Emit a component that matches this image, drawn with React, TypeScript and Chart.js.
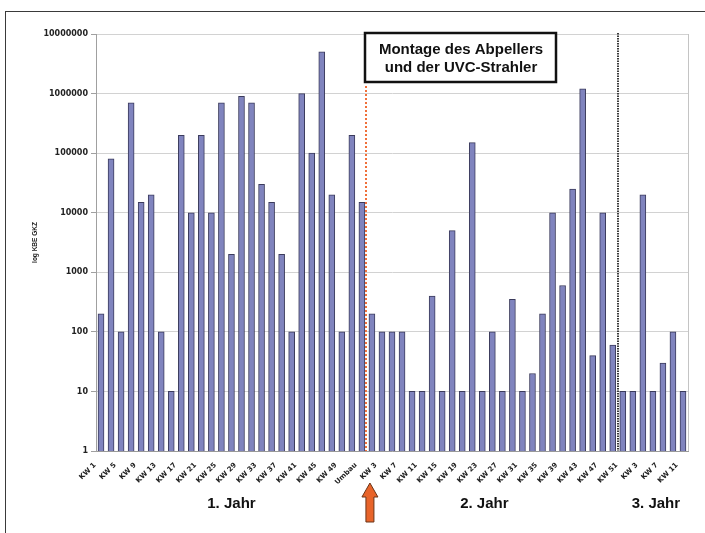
import React, { useEffect, useRef } from 'react';
import { Chart, registerables } from 'chart.js';

Chart.register(...registerables);

const year1Weeks = ['KW 1','KW 3','KW 5','KW 7','KW 9','KW 11','KW 13','KW 15','KW 17','KW 19','KW 21','KW 23','KW 25','KW 27','KW 29','KW 31','KW 33','KW 35','KW 37','KW 39','KW 41','KW 43','KW 45','KW 47','KW 49','KW 51'];
const rebuildLabel = ['Umbau'];
const year2Weeks = ['KW 1','KW 3','KW 5','KW 7','KW 9','KW 11','KW 13','KW 15','KW 17','KW 19','KW 21','KW 23','KW 25','KW 27','KW 29','KW 31','KW 33','KW 35','KW 37','KW 39','KW 41','KW 43','KW 45','KW 47','KW 49','KW 51'];
const year3Weeks = ['KW 1','KW 3','KW 5','KW 7','KW 9','KW 11'];

const year1Values = [200, 80000, 100, 700000, 15000, 20000, 100, 10, 200000, 10000, 200000, 10000, 700000, 2000, 900000, 700000, 30000, 15000, 2000, 100, 1000000, 100000, 5000000, 20000, 100, 200000];
const rebuildValues = [15000];
const year2Values = [200, 100, 100, 100, 10, 10, 400, 10, 5000, 10, 150000, 10, 100, 10, 350, 10, 20, 200, 10000, 600, 25000, 1200000, 40, 10000, 60, 10];
const year3Values = [10, 20000, 10, 30, 100, 10];

const yTickValues = [1, 10, 100, 1000, 10000, 100000, 1000000, 10000000];
const yTitle = 'log KBE GKZ';
const yearLabels = ['1. Jahr', '2. Jahr', '3. Jahr'];
const boxLines = ['Montage des Abpellers', 'und der UVC-Strahler'];

const categories = [...year1Weeks, ...rebuildLabel, ...year2Weeks, ...year3Weeks];
const values = [...year1Values, ...rebuildValues, ...year2Values, ...year3Values];

const overlay = {
  id: 'overlay',
  afterDraw(chart: any) {
    const { ctx, chartArea: a, scales } = chart;
    const x = scales.x;
    ctx.save();
    // outer frame
    ctx.strokeStyle = '#3a3a3a';
    ctx.lineWidth = 1;
    ctx.beginPath();
    ctx.moveTo(5, 11.5);
    ctx.lineTo(705, 11.5);
    ctx.moveTo(5.5, 11);
    ctx.lineTo(5.5, 533);
    ctx.stroke();
    // plot area right border
    ctx.strokeStyle = '#c4c4c4';
    ctx.beginPath();
    ctx.moveTo(a.right + 0.5, a.top);
    ctx.lineTo(a.right + 0.5, a.bottom);
    ctx.stroke();
    // black dotted separator (year 2 / year 3)
    const bx = Math.round(x.getPixelForValue(51.55));
    ctx.strokeStyle = '#3a3a3a';
    ctx.lineWidth = 2;
    ctx.setLineDash([1.5, 1]);
    ctx.beginPath();
    ctx.moveTo(bx, a.top - 1);
    ctx.lineTo(bx, a.bottom);
    ctx.stroke();
    // orange dotted separator (rebuild)
    const ox = Math.round(x.getPixelForValue(26.4));
    ctx.strokeStyle = '#f0703a';
    ctx.lineWidth = 2;
    ctx.setLineDash([2, 2]);
    ctx.beginPath();
    ctx.moveTo(ox, 86);
    ctx.lineTo(ox, a.bottom);
    ctx.stroke();
    ctx.setLineDash([]);
    // annotation box
    const bxL = ox - 1;
    ctx.fillStyle = '#ffffff';
    ctx.fillRect(bxL, 33, 191, 49);
    ctx.strokeStyle = '#111111';
    ctx.lineWidth = 2.5;
    ctx.strokeRect(bxL, 33, 191, 49);
    ctx.fillStyle = '#111111';
    ctx.font = 'bold 15px "Liberation Sans", Arial, sans-serif';
    ctx.textAlign = 'center';
    ctx.textBaseline = 'middle';
    ctx.fillText(boxLines[0], bxL + 96, 50);
    ctx.fillText(boxLines[1], bxL + 96, 68);
    // arrow
    const ax = x.getPixelForValue(27) - 2;
    ctx.beginPath();
    ctx.moveTo(ax, 483);
    ctx.lineTo(ax + 8, 497);
    ctx.lineTo(ax + 4, 497);
    ctx.lineTo(ax + 4, 522);
    ctx.lineTo(ax - 4, 522);
    ctx.lineTo(ax - 4, 497);
    ctx.lineTo(ax - 8, 497);
    ctx.closePath();
    ctx.fillStyle = '#e8642a';
    ctx.fill();
    ctx.strokeStyle = '#6b3518';
    ctx.lineWidth = 1;
    ctx.stroke();
    // year labels
    ctx.fillStyle = '#111111';
    ctx.font = 'bold 15px "Liberation Sans", Arial, sans-serif';
    const yearPos = [13, 38.2, 55.3];
    yearLabels.forEach((t, i) => {
      ctx.fillText(t, x.getPixelForValue(yearPos[i]), 504);
    });
    ctx.restore();
  },
};

export default function App() {
  const ref = useRef<HTMLCanvasElement | null>(null);
  useEffect(() => {
    document.body.style.margin = '0';
    const canvas = ref.current;
    if (!canvas) return;
    const chart = new Chart(canvas, {
      type: 'bar',
      data: {
        labels: categories,
        datasets: [
          {
            data: values,
            backgroundColor: '#8084be',
            borderColor: '#3b3b5c',
            borderWidth: 1,
            barThickness: 6,
          },
        ],
      },
      options: {
        animation: false,
        responsive: false,
        devicePixelRatio: 1,
        layout: { padding: { left: 0, right: 17, top: 34, bottom: 0 } },
        plugins: { legend: { display: false }, tooltip: { enabled: false } },
        scales: {
          x: {
            type: 'category',
            grid: { display: false },
            border: { display: true, color: '#9a9a9a' },
            ticks: {
              autoSkip: false,
              maxRotation: 45,
              minRotation: 45,
              labelOffset: -6,
              padding: 2,
              color: '#222222',
              font: { family: 'DejaVu Sans', weight: 'bold', size: 7 },
              callback: (_v: any, i: number) => (i % 2 === 0 ? categories[i] : ''),
            },
            afterFit: (s: any) => {
              s.height = 82;
            },
          },
          y: {
            type: 'logarithmic',
            min: 1,
            max: 10000000,
            grid: { color: '#d2d2d2', tickLength: 5, tickColor: '#a0a0a0' },
            border: { display: true, color: '#a0a0a0' },
            afterBuildTicks: (s: any) => {
              s.ticks = yTickValues.map((v) => ({ value: v }));
            },
            ticks: {
              padding: 3,
              color: '#222222',
              font: { family: 'DejaVu Sans', weight: 'bold', size: 8 },
              callback: (v: any) => String(v),
            },
            title: {
              display: true,
              text: yTitle,
              color: '#222222',
              font: { family: 'Liberation Sans', weight: 'bold', size: 6.5 },
              padding: { top: 31, bottom: 0 },
            },
            afterFit: (s: any) => {
              s.width = 96;
            },
          },
        },
      },
      plugins: [overlay],
    });
    return () => chart.destroy();
  }, []);
  return (
    <div style={{ position: 'fixed', left: 0, top: 0, width: 705, height: 533, background: '#fff' }}>
      <canvas ref={ref} width={705} height={533} />
    </div>
  );
}
